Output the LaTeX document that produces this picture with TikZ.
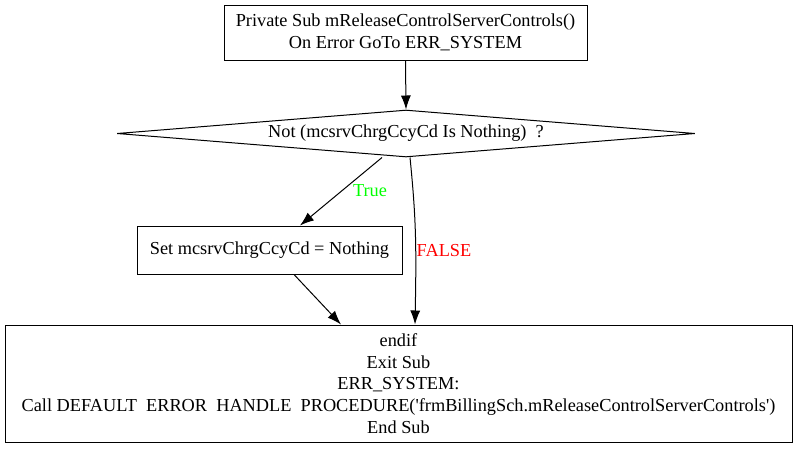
\documentclass[tikz,border=0pt]{standalone}
\usepackage{fontspec}
\setmainfont{Liberation Serif}
\usetikzlibrary{shapes.geometric,arrows.meta}
\begin{document}
\begin{tikzpicture}[x=1pt,y=-1pt,
  every node/.style={font=\fontsize{18.3}{21.8}\selectfont, align=center},
  boxnode/.style={draw, line width=1pt, inner sep=0pt},
  decision/.style={draw, diamond, aspect=12.3, inner sep=0pt, line width=1pt, minimum width=578pt, minimum height=47pt},
  flow/.style={line width=1pt, -{Latex[length=14pt,width=10pt]}},
  lbl/.style={inner sep=0pt}
]
\useasboundingbox (0,0) rectangle (797,448);
\node[boxnode, minimum width=363pt, minimum height=55pt] (top) at (405.5,32.5) {Private Sub mReleaseControlServerControls()\\On Error GoTo ERR\_SYSTEM};
\node[decision] (dia) at (406,133.5) {Not (mcsrvChrgCcyCd Is Nothing)\ \ ?};
\node[boxnode, minimum width=265pt, minimum height=48pt] (set) at (269.5,250) {Set mcsrvChrgCcyCd = Nothing};
\node[boxnode, minimum width=787pt, minimum height=117pt] (bot) at (398.5,383.5) {endif\\Exit Sub\\ERR\_SYSTEM:\\Call DEFAULT\ \ ERROR\ \ HANDLE\ \ PROCEDURE(\textquotesingle frmBillingSch.mReleaseControlServerControls\textquotesingle)\\End Sub};
\node[lbl, text=green] (tlabel) at (370,191) {True};
\node[lbl, text=red] (flabel) at (444,251) {FALSE};
\draw[flow] (top.south) -- (dia.north);
\draw[flow] ([xshift=-24pt]dia.south) -- ([xshift=30.5pt]set.north);
\draw[flow] ([xshift=4pt]dia.south) .. controls ([xshift=10pt,yshift=-60pt]dia.south) and ([xshift=18pt,yshift=80pt]bot.north) .. ([xshift=16.5pt]bot.north);
\draw[flow] ([xshift=24.5pt]set.south) -- ([xshift=-57.5pt]bot.north);
\end{tikzpicture}
\end{document}
